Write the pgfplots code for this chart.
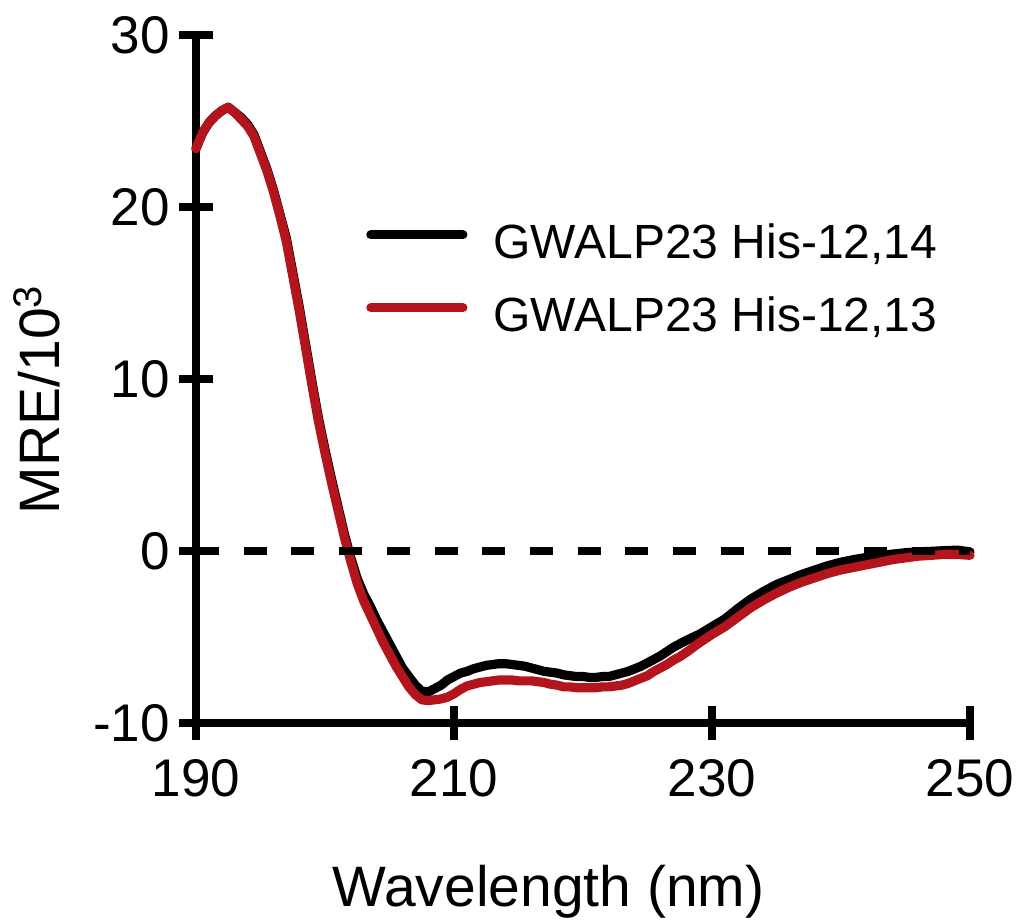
\documentclass[border=0pt]{standalone}
\usepackage{pgfplots}
\pgfplotsset{compat=1.18}
\usepackage{fontspec}
\setmainfont{Liberation Sans}
\definecolor{cdred}{RGB}{180,20,28}

\begin{document}
\begin{tikzpicture}
\useasboundingbox (-98pt,-100.5pt) rectangle (413pt,361.5pt);
\begin{axis}[
  at={(0,0)}, anchor=south west,
  scale only axis, width=387pt, height=344pt,
  xmin=190, xmax=250, ymin=-10, ymax=30,
  clip=false,
  axis x line*=bottom, axis y line*=left,
  axis line style={line width=4.3pt, line cap=rect},
  xtick={190,210,230,250}, xticklabels={190,210,230,250},
  ytick={-10,0,10,20,30}, yticklabels={-10,0,10,20,30},
  minor tick num=0,
  tick align=center,
  major tick length=17pt,
  every tick/.style={black, line width=4.3pt},
  tick label style={font=\fontsize{26.5}{30}\selectfont},
  xticklabel style={yshift=-6pt},
  yticklabel style={xshift=-1pt},
  xlabel={Wavelength (nm)},
  ylabel={MRE/10\textsuperscript{3}},
  label style={font=\fontsize{28.5}{32}\selectfont},
  xlabel style={at={(axis description cs:0.4554,0)}, anchor=base, yshift=-92pt},
  ylabel style={at={(axis description cs:-0.2054,0.47)}, anchor=center},
  legend style={draw=none, fill=none, at={(axis cs:203.2,19.25)}, anchor=north west,
    font=\fontsize{24}{28}\selectfont, row sep=13.6pt, column sep=11pt,
    inner sep=0pt, outer sep=0pt},
  legend cell align=left,
  legend image code/.code={\draw[#1] (0pt,0.75ex) -- (46pt,0.75ex);},
]
\addplot[black, line width=4.6pt, line join=round, line cap=round] coordinates {
(190.0,23.4) (190.5,24.3) (191.0,24.9) (191.5,25.3) (192.0,25.6) (192.5,25.8)
(193.0,25.5) (193.5,25.2) (194.0,24.8) (194.5,24.2) (195.0,23.2) (195.5,22.2)
(196.0,21.0) (196.5,19.6) (197.0,18.2) (197.5,16.2) (198.0,14.2) (198.5,12.0)
(199.0,9.8) (199.5,7.7) (200.0,5.9) (200.5,4.2) (201.0,2.6) (201.5,1.0)
(202.0,-0.4) (202.5,-1.6) (203.0,-2.5) (203.5,-3.2) (204.0,-4.0) (204.5,-4.7)
(205.0,-5.4) (205.5,-6.1) (206.0,-6.8) (206.5,-7.3) (207.0,-7.8) (207.5,-8.15)
(208.0,-8.2) (208.5,-8.0) (209.0,-7.8) (209.5,-7.5) (210.0,-7.3) (210.5,-7.1)
(211.0,-7.0) (211.5,-6.85) (212.0,-6.75) (212.5,-6.65) (213.0,-6.6) (213.5,-6.55)
(214.0,-6.55) (214.5,-6.6) (215.0,-6.65) (215.5,-6.7) (216.0,-6.8) (216.5,-6.9)
(217.0,-7.0) (217.5,-7.05) (218.0,-7.1) (218.5,-7.2) (219.0,-7.25) (219.5,-7.3)
(220.0,-7.3) (220.5,-7.35) (221.0,-7.35) (221.5,-7.3) (222.0,-7.3) (222.5,-7.2)
(223.0,-7.1) (223.5,-7.0) (224.0,-6.85) (224.5,-6.7) (225.0,-6.5) (225.5,-6.3)
(226.0,-6.1) (226.5,-5.85) (227.0,-5.6) (227.5,-5.4) (228.0,-5.2) (229.0,-4.85)
(230.0,-4.4) (231.0,-3.95) (232.0,-3.35) (233.0,-2.8) (234.0,-2.35) (235.0,-1.95)
(236.0,-1.65) (237.0,-1.35) (238.0,-1.1) (239.0,-0.85) (240.0,-0.65) (241.0,-0.5)
(242.0,-0.37) (243.0,-0.27) (244.0,-0.18) (245.0,-0.1) (246.0,-0.05) (247.0,-0.02)
(248.0,0.02) (249.0,0.05) (250.0,-0.05)
};
\addlegendentry{GWALP23 His-12,14}
\addplot[cdred, line width=4.6pt, line join=round, line cap=round] coordinates {
(190.0,23.4) (190.5,24.3) (191.0,24.9) (191.5,25.3) (192.0,25.6) (192.5,25.8)
(193.0,25.5) (193.5,25.1) (194.0,24.7) (194.5,24.1) (195.0,23.1) (195.5,22.1)
(196.0,20.9) (196.5,19.5) (197.0,18.0) (197.5,16.0) (198.0,14.0) (198.5,11.8)
(199.0,9.6) (199.5,7.5) (200.0,5.7) (200.5,4.0) (201.0,2.4) (201.5,0.8)
(202.0,-0.6) (202.5,-1.9) (203.0,-2.9) (203.5,-3.7) (204.0,-4.5) (204.5,-5.3)
(205.0,-6.0) (205.5,-6.7) (206.0,-7.3) (206.5,-7.9) (207.0,-8.35) (207.5,-8.65)
(208.0,-8.7) (208.5,-8.65) (209.0,-8.6) (209.5,-8.5) (210.0,-8.3) (210.5,-8.05)
(211.0,-7.85) (211.5,-7.75) (212.0,-7.65) (212.5,-7.6) (213.0,-7.55) (213.5,-7.5)
(214.0,-7.5) (214.5,-7.5) (215.0,-7.55) (215.5,-7.55) (216.0,-7.55) (216.5,-7.6)
(217.0,-7.65) (217.5,-7.75) (218.0,-7.8) (218.5,-7.9) (219.0,-7.9) (219.5,-7.95)
(220.0,-7.95) (220.5,-7.95) (221.0,-7.95) (221.5,-7.9) (222.0,-7.9) (222.5,-7.85)
(223.0,-7.8) (223.5,-7.7) (224.0,-7.55) (224.5,-7.4) (225.0,-7.25) (225.5,-7.0)
(226.0,-6.8) (226.5,-6.6) (227.0,-6.35) (227.5,-6.15) (228.0,-5.9) (229.0,-5.35)
(230.0,-4.85) (231.0,-4.4) (232.0,-3.85) (233.0,-3.3) (234.0,-2.85) (235.0,-2.45)
(236.0,-2.1) (237.0,-1.8) (238.0,-1.55) (239.0,-1.3) (240.0,-1.1) (241.0,-0.95)
(242.0,-0.8) (243.0,-0.65) (244.0,-0.5) (245.0,-0.4) (246.0,-0.3) (247.0,-0.25)
(248.0,-0.2) (249.0,-0.2) (250.0,-0.25)
};
\addlegendentry{GWALP23 His-12,13}
\addplot[black, line width=4pt, dash pattern=on 11.5pt off 12.35pt, forget plot] coordinates {(190,0) (250,0)};
\end{axis}
\end{tikzpicture}
\end{document}
